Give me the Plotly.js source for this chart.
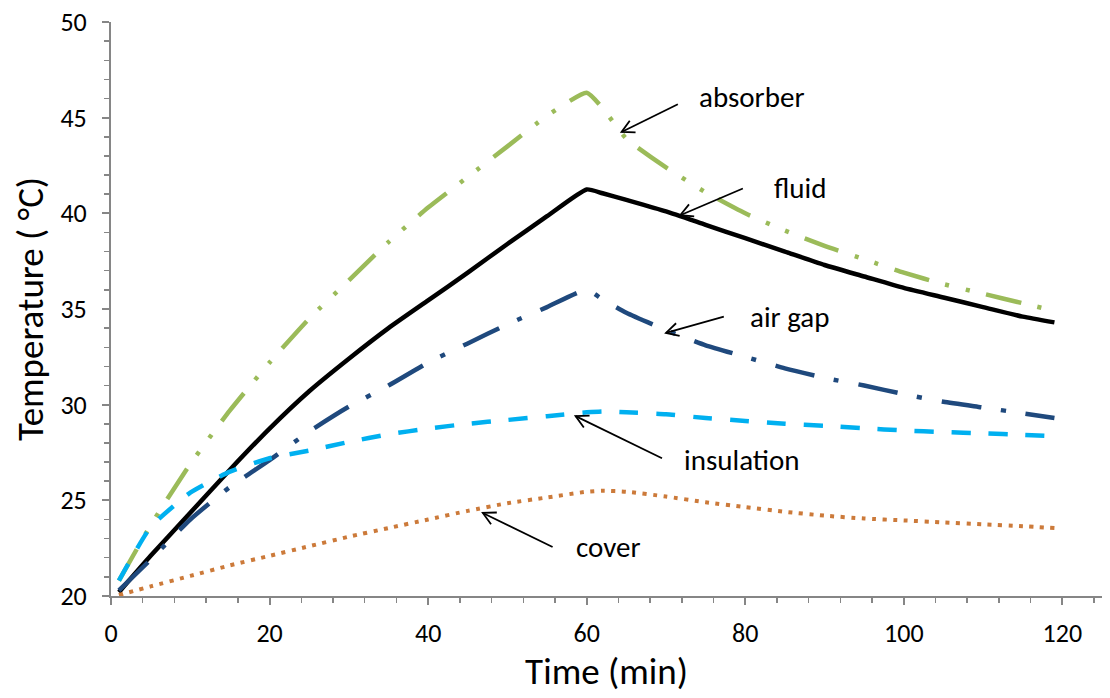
<!DOCTYPE html>
<html>
<head>
<meta charset="utf-8">
<script src="https://cdn.plot.ly/plotly-3.0.1.min.js"></script>
<style>html,body{margin:0;padding:0;background:#fff;}#chart{width:1110px;height:698px;}</style>
</head>
<body>
<div id="chart"></div>
<script>
// ---- data ----
var timeMin = [1, 5, 10, 15, 20, 25, 30, 35, 40, 45, 50, 55, 60, 62, 65, 70, 75, 80, 85, 90, 95, 100, 105, 110, 115, 119];

var absorber = [20.8, 23.7, 26.9, 29.7, 32.2, 34.5, 36.5, 38.5, 40.3, 41.9, 43.5, 45.1, 46.3, 45.5, 43.9, 42.4, 41.1, 40.0, 39.1, 38.3, 37.6, 36.9, 36.3, 35.8, 35.3, 34.9];
var fluid    = [20.2, 22.1, 24.35, 26.6, 28.75, 30.7, 32.4, 34.0, 35.45, 36.9, 38.4, 39.85, 41.25, 41.05, 40.7, 40.1, 39.4, 38.7, 38.0, 37.3, 36.7, 36.1, 35.6, 35.1, 34.6, 34.3];
var airGap   = [20.3, 21.9, 24.0, 25.7, 27.1, 28.6, 29.9, 31.0, 32.2, 33.2, 34.2, 35.1, 36.0, 35.5, 34.8, 33.9, 33.1, 32.5, 31.9, 31.4, 31.0, 30.55, 30.15, 29.85, 29.55, 29.3];
var insulation = [20.8, 23.6, 25.4, 26.5, 27.2, 27.6, 28.05, 28.45, 28.75, 29.0, 29.2, 29.4, 29.6, 29.65, 29.6, 29.5, 29.3, 29.15, 29.0, 28.9, 28.77, 28.65, 28.57, 28.5, 28.42, 28.35];
var cover    = [20.05, 20.5, 21.05, 21.6, 22.1, 22.6, 23.1, 23.55, 24.0, 24.45, 24.85, 25.15, 25.45, 25.5, 25.45, 25.2, 24.9, 24.65, 24.4, 24.2, 24.05, 23.95, 23.85, 23.75, 23.65, 23.55];

var seriesNames = ["absorber", "fluid", "air gap", "insulation", "cover"];

// annotation anchors (data coords): [label, textX, textY, tailX, tailY, headX, headY]
var labelAnchors = [
  ["absorber",   73.9, 46.1, 71.5, 45.7, 64.4, 44.25],
  ["fluid",      83.4, 41.3, 79.7, 41.3, 71.8, 39.9],
  ["air gap",    80.3, 34.6, 77.3, 34.6, 70.0, 33.75],
  ["insulation", 72.0, 27.1, 69.5, 27.2, 58.6, 29.4],
  ["cover",      58.4, 22.56, 55.7, 22.56, 46.9, 24.34]
];

var FONT = "Carlito, Lato, 'Open Sans', sans-serif";

var X_RANGE = [0, 125], Y_RANGE = [20, 50];
var M = {l: 111, r: 8, t: 22, b: 102}, W = 1110, H = 698;
var sx = (W - M.l - M.r) / (X_RANGE[1] - X_RANGE[0]);
var sy = (H - M.t - M.b) / (Y_RANGE[1] - Y_RANGE[0]);

var traces = [
  {x: timeMin, y: absorber, name: seriesNames[0], mode: "lines",
   line: {color: "#9BBB59", width: 4.5, dash: "36px,17px,4px,17px,4px,17px", shape: "spline", smoothing: 0.5}},
  {x: timeMin, y: fluid, name: seriesNames[1], mode: "lines",
   line: {color: "#000000", width: 4.5, shape: "spline", smoothing: 0.5}},
  {x: timeMin, y: airGap, name: seriesNames[2], mode: "lines",
   line: {color: "#1F497D", width: 4.5, dash: "40px,20px,5px,20px", shape: "spline", smoothing: 0.5}},
  {x: timeMin, y: insulation, name: seriesNames[3], mode: "lines",
   line: {color: "#00B0F0", width: 4.5, dash: "19px,18px", shape: "spline", smoothing: 0.5}},
  {x: timeMin, y: cover, name: seriesNames[4], mode: "lines",
   line: {color: "#CC7A3A", width: 4, dash: "4px,6.5px", shape: "spline", smoothing: 0.5}}
];

var annotations = [];
var shapes = [];
labelAnchors.forEach(function (a) {
  var tx = a[3], ty = a[4], hx = a[5], hy = a[6];
  // open "V" arrowhead computed in pixel space
  var dxp = (hx - tx) * sx, dyp = (hy - ty) * sy;
  var len = Math.sqrt(dxp * dxp + dyp * dyp);
  var ux = dxp / len, uy = dyp / len;
  var L = 14, ang = 28 * Math.PI / 180;
  function wing(sgn) {
    var c = Math.cos(sgn * ang), s = Math.sin(sgn * ang);
    var rx = -(ux * c - uy * s), ry = -(ux * s + uy * c);
    return [hx + rx * L / sx, hy + ry * L / sy];
  }
  var w1 = wing(1), w2 = wing(-1);
  shapes.push({type: "line", xref: "x", yref: "y", x0: tx, y0: ty, x1: hx, y1: hy,
    line: {color: "#000", width: 1.8}});
  shapes.push({type: "path", xref: "x", yref: "y",
    path: "M" + w1[0] + "," + w1[1] + " L" + hx + "," + hy + " L" + w2[0] + "," + w2[1],
    line: {color: "#000", width: 1.8}});
  annotations.push({
    x: a[1], y: a[2], xref: "x", yref: "y", xanchor: "left", yanchor: "middle",
    text: a[0], showarrow: false, font: {family: FONT, size: 29, color: "#000"}
  });
});

var layout = {
  width: W, height: H,
  margin: M,
  paper_bgcolor: "#fff", plot_bgcolor: "#fff",
  showlegend: false,
  font: {family: FONT, size: 26, color: "#000"},
  xaxis: {
    range: X_RANGE, dtick: 20, tick0: 0,
    showgrid: false, zeroline: false,
    showline: true, linecolor: "#868686", linewidth: 2,
    ticks: "outside", ticklen: 7, tickwidth: 2, tickcolor: "#868686",
    minor: {dtick: 4, ticks: "outside", ticklen: 5, tickwidth: 1.5, tickcolor: "#868686", showgrid: false},
    tickfont: {family: FONT, size: 26, color: "#000"},
    ticklabelstandoff: 6,
    title: {text: "Time (min)", font: {family: FONT, size: 37, color: "#000"}, standoff: 2}
  },
  yaxis: {
    range: Y_RANGE, dtick: 5, tick0: 20,
    showgrid: false, zeroline: false,
    showline: true, linecolor: "#868686", linewidth: 2,
    ticks: "outside", ticklen: 7, tickwidth: 2, tickcolor: "#868686",
    minor: {dtick: 1, ticks: "outside", ticklen: 5, tickwidth: 1.5, tickcolor: "#868686", showgrid: false},
    tickfont: {family: FONT, size: 26, color: "#000"},
    ticklabelstandoff: 10,
    title: {text: "Temperature ( °C)", font: {family: FONT, size: 37, color: "#000"}, standoff: 5}
  },
  shapes: shapes,
  annotations: annotations
};

Plotly.newPlot("chart", traces, layout, {displayModeBar: false, staticPlot: true});
</script>
</body>
</html>
